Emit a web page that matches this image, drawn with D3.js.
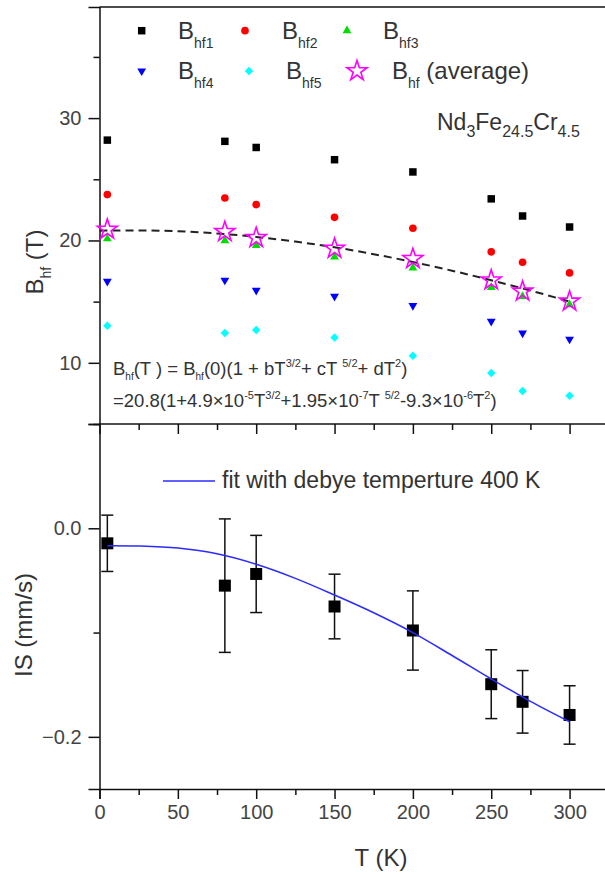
<!DOCTYPE html>
<html>
<head>
<meta charset="utf-8">
<script src="https://cdn.jsdelivr.net/npm/d3@7"></script>
<style>
  html, body { margin: 0; padding: 0; background: #fff; }
  svg { display: block; font-family: "Liberation Sans", Arial, sans-serif; }
  text { white-space: pre; }
</style>
</head>
<body>
<svg id="chart" width="605" height="872"></svg>
<script>
// ---------------- data ----------------
const temps   = [5, 80, 100, 150, 200, 250, 270, 300];
const bhf1    = [28.2, 28.1, 27.6, 26.6, 25.6, 23.4, 22.0, 21.1];
const bhf2    = [23.75, 23.47, 22.93, 21.89, 21.0, 19.07, 18.22, 17.35];
const bhf3    = [20.14, 19.98, 19.59, 18.66, 17.76, 16.17, 15.43, 14.75];
const bhf4    = [16.66, 16.75, 15.93, 15.43, 14.67, 13.39, 12.43, 11.93];
const bhf5    = [13.03, 12.43, 12.68, 12.07, 10.57, 9.16, 7.70, 7.30];
const bhfAvg  = [20.9, 20.71, 20.22, 19.34, 18.50, 16.75, 15.84, 15.02];

const fitT    = [0, 25, 50, 75, 100, 125, 150, 175, 200, 225, 250, 275, 300];
const bhfFit  = [20.80, 20.82, 20.75, 20.57, 20.29, 19.91, 19.44, 18.88, 18.24, 17.53, 16.75, 15.91, 15.01];

const isValues = [-0.0144, -0.055, -0.0438, -0.075, -0.098, -0.1495, -0.1664, -0.179];
const isErr    = [0.027, 0.064, 0.037, 0.031, 0.038, 0.033, 0.030, 0.028];

const isFitT   = [5, 25, 50, 75, 100, 125, 150, 175, 200, 225, 250, 275, 300];
const isFit    = [-0.0167, -0.0170, -0.0190, -0.0245, -0.0345, -0.048, -0.064, -0.081, -0.100, -0.122, -0.1445, -0.166, -0.1855];

const xTicks      = [0, 50, 100, 150, 200, 250, 300];
const xMinorTicks = [25, 75, 125, 175, 225, 275, 325, 350];
const topTicks      = [10, 20, 30];
const topMinorTicks = [15, 25, 35];
const botTicks      = [0.0, -0.2];
const botMinorTicks = [0.1, -0.1];

// ---------------- setup ----------------
const svg = d3.select("#chart");
const INK = "#111";
const TXT = "#333";

const x    = d3.scaleLinear().domain([0, 360]).range([99.5, 663.6]);
const yTop = d3.scaleLinear().domain([5, 39.08]).range([424, 7]);
const yBot = d3.scaleLinear().domain([-0.25, 0.1]).range([789, 424]);

function rich(parent, xx, yy, parts, o) {
  const t = parent.append("text")
    .attr("x", xx).attr("y", yy)
    .attr("fill", TXT)
    .style("font-size", o.size + "px");
  if (o.transform) t.attr("transform", o.transform);
  if (o.anchor) t.attr("text-anchor", o.anchor);
  let cur = 0;
  parts.forEach(([s, k]) => {
    let off = 0, fs = o.size;
    if (k === "sub") { off = o.subDy; fs = o.subSize; }
    else if (k === "sup") { off = -o.supDy; fs = o.supSize; }
    t.append("tspan").attr("dy", off - cur).style("font-size", fs + "px").text(s);
    cur = off;
  });
  return t;
}

// ---------------- frame / axes ----------------
const g = svg.append("g");

g.append("line").attr("x1", x(0)).attr("x2", x(360)).attr("y1", yTop(39.08)).attr("y2", yTop(39.08))
  .attr("stroke", INK).attr("stroke-width", 1.5);
g.append("line").attr("x1", x(0)).attr("x2", x(360)).attr("y1", yBot(0.1)).attr("y2", yBot(0.1))
  .attr("stroke", INK).attr("stroke-width", 1.5);

const xAxisMajor = d3.axisBottom(x).tickValues(xTicks).tickSize(10).tickPadding(6).tickFormat(d3.format("d"));
g.append("g").attr("transform", `translate(0,${yBot(-0.25)})`).call(xAxisMajor);
const xAxisMinor = d3.axisBottom(x).tickValues(xMinorTicks).tickSize(6).tickFormat("");
g.append("g").attr("transform", `translate(0,${yBot(-0.25)})`).call(xAxisMinor).select(".domain").remove();
const midMajor = d3.axisBottom(x).tickValues(xTicks).tickSize(10).tickFormat("");
g.append("g").attr("transform", `translate(0,${yBot(0.1)})`).call(midMajor).select(".domain").remove();
const midMinor = d3.axisBottom(x).tickValues(xMinorTicks).tickSize(6).tickFormat("");
g.append("g").attr("transform", `translate(0,${yBot(0.1)})`).call(midMinor).select(".domain").remove();

const yTopAxis = d3.axisLeft(yTop).tickValues(topTicks).tickSize(11).tickPadding(7).tickFormat(d3.format("d"));
g.append("g").attr("transform", `translate(${x(0)},0)`).call(yTopAxis);
g.append("g").attr("transform", `translate(${x(0)},0)`)
  .call(d3.axisLeft(yTop).tickValues(topMinorTicks).tickSize(6).tickFormat("")).select(".domain").remove();

const yBotAxis = d3.axisLeft(yBot).tickValues(botTicks).tickSize(11).tickPadding(7).tickFormat(d3.format(".1f"));
g.append("g").attr("transform", `translate(${x(0)},0)`).call(yBotAxis);
g.append("g").attr("transform", `translate(${x(0)},0)`)
  .call(d3.axisLeft(yBot).tickValues(botMinorTicks).tickSize(6).tickFormat("")).select(".domain").remove();

g.selectAll(".domain").attr("stroke", INK).attr("stroke-width", 1.5);
g.selectAll(".tick line").attr("stroke", INK).attr("stroke-width", 1.5);
g.selectAll(".tick text").attr("fill", "#444")
  .style("font-size", "20px").style("font-family", '"Liberation Sans", Arial, sans-serif');

svg.append("text").attr("x", 381).attr("y", 866).attr("text-anchor", "middle")
  .attr("fill", TXT).style("font-size", "24px").text("T (K)");

rich(svg, 0, 0, [["B", "n"], ["hf", "sub"], [" (T)", "n"]],
  { size: 24, subSize: 14, subDy: 8, anchor: "middle", transform: "translate(43,262) rotate(-90)" });

svg.append("text").attr("transform", "translate(32,625) rotate(-90)").attr("text-anchor", "middle")
  .attr("fill", TXT).style("font-size", "24px").text("IS (mm/s)");

// ---------------- top panel ----------------
const topG = svg.append("g");

const fitLine = d3.line().x((d, i) => x(fitT[i])).y(d => yTop(d)).curve(d3.curveCatmullRom.alpha(0.5));
topG.append("path").datum(bhfFit).attr("d", fitLine)
  .attr("fill", "none").attr("stroke", "#222").attr("stroke-width", 2).attr("stroke-dasharray", "8,5");

const sym = (type, size) => d3.symbol().type(type).size(size)();

function scatter(vals, type, size, fill, rot) {
  topG.selectAll(null).data(vals).enter().append("path")
    .attr("d", sym(type, size))
    .attr("transform", (d, i) => `translate(${x(temps[i])},${yTop(d)})` + (rot ? ` rotate(${rot})` : ""))
    .attr("fill", fill);
}
scatter(bhf1, d3.symbolSquare, 56, "#000");
scatter(bhf2, d3.symbolCircle, 46, "#ff0000");
scatter(bhf3, d3.symbolTriangle, 34, "#00dd00");
scatter(bhf4, d3.symbolTriangle, 34, "#0000ff", 180);
scatter(bhf5, d3.symbolSquare, 36, "#00ffff", 45);

topG.selectAll(null).data(bhfAvg).enter().append("path")
  .attr("d", sym(d3.symbolStar, 125))
  .attr("transform", (d, i) => `translate(${x(temps[i])},${yTop(d)})`)
  .attr("fill", "none").attr("stroke", "#ff00ff").attr("stroke-width", 1.6);

const legRows = [
  { sy: 30.7, by: 39.3, items: [
    { sx: 141.7, tx: 178, lab: "hf1", draw: s => s.attr("d", sym(d3.symbolSquare, 56)).attr("fill", "#000") },
    { sx: 245, tx: 282, lab: "hf2", draw: s => s.attr("d", sym(d3.symbolCircle, 46)).attr("fill", "#ff0000") },
    { sx: 347, tx: 383, lab: "hf3", draw: s => s.attr("d", sym(d3.symbolTriangle, 34)).attr("fill", "#00dd00") }
  ]},
  { sy: 71, by: 79.3, items: [
    { sx: 141.7, tx: 178, lab: "hf4", draw: s => s.attr("d", sym(d3.symbolTriangle, 34)).attr("fill", "#0000ff"), rot: 180 },
    { sx: 249, tx: 286, lab: "hf5", draw: s => s.attr("d", sym(d3.symbolSquare, 36)).attr("fill", "#00ffff"), rot: 45 },
    { sx: 357, tx: 392, lab: "hf", extra: " (average)", draw: s => s.attr("d", sym(d3.symbolStar, 125)).attr("fill", "none").attr("stroke", "#ff00ff").attr("stroke-width", 1.6) }
  ]}
];
legRows.forEach(r => {
  r.items.forEach(it => {
    const p = topG.append("path").attr("transform", `translate(${it.sx},${r.sy})` + (it.rot ? ` rotate(${it.rot})` : ""));
    it.draw(p);
    const parts = [["B", "n"], [it.lab, "sub"]];
    if (it.extra) parts.push([it.extra, "n"]);
    rich(topG, it.tx, r.by, parts, { size: 24, subSize: 14, subDy: 9 });
  });
});

rich(topG, 437, 130, [["Nd", "n"], ["3", "sub"], ["Fe", "n"], ["24.5", "sub"], ["Cr", "n"], ["4.5", "sub"]],
  { size: 23, subSize: 16, subDy: 7 });

const fo = { size: 18.5, subSize: 10, subDy: 5, supSize: 11, supDy: 8 };
rich(topG, 113, 375, [
  ["B", "n"], ["hf", "sub"], ["(T ) = B", "n"], ["hf", "sub"], ["(0)(1 + bT", "n"], ["3/2", "sup"],
  ["+ cT ", "n"], ["5/2", "sup"], ["+ dT", "n"], ["2", "sup"], [")", "n"]
], fo);
rich(topG, 113, 406.7, [
  ["=20.8(1+4.9\u00d710", "n"], ["-5", "sup"], ["T", "n"], ["3/2", "sup"], ["+1.95\u00d710", "n"], ["-7", "sup"],
  ["T ", "n"], ["5/2", "sup"], ["-9.3\u00d710", "n"], ["-6", "sup"], ["T", "n"], ["2", "sup"], [")", "n"]
], fo);

// ---------------- bottom panel ----------------
const botG = svg.append("g");

const capW = 6;
temps.forEach((t, i) => {
  const cx = x(t), y1 = yBot(isValues[i] + isErr[i]), y2 = yBot(isValues[i] - isErr[i]);
  botG.append("line").attr("x1", cx).attr("x2", cx).attr("y1", y1).attr("y2", y2).attr("stroke", "#111").attr("stroke-width", 1.5);
  botG.append("line").attr("x1", cx - capW).attr("x2", cx + capW).attr("y1", y1).attr("y2", y1).attr("stroke", "#111").attr("stroke-width", 1.5);
  botG.append("line").attr("x1", cx - capW).attr("x2", cx + capW).attr("y1", y2).attr("y2", y2).attr("stroke", "#111").attr("stroke-width", 1.5);
});

botG.selectAll(null).data(isValues).enter().append("path")
  .attr("d", sym(d3.symbolSquare, 144))
  .attr("transform", (d, i) => `translate(${x(temps[i])},${yBot(d)})`)
  .attr("fill", "#000");

const isLine = d3.line().x((d, i) => x(isFitT[i])).y(d => yBot(d)).curve(d3.curveCatmullRom.alpha(0.5));
botG.append("path").datum(isFit).attr("d", isLine)
  .attr("fill", "none").attr("stroke", "#2b2bff").attr("stroke-width", 1.5);

botG.append("line").attr("x1", 163).attr("x2", 215).attr("y1", 481).attr("y2", 481)
  .attr("stroke", "#2b2bff").attr("stroke-width", 1.5);
botG.append("text").attr("x", 222).attr("y", 488).attr("fill", TXT)
  .style("font-size", "23px").text("fit with debye temperture 400 K");
</script>
</body>
</html>
